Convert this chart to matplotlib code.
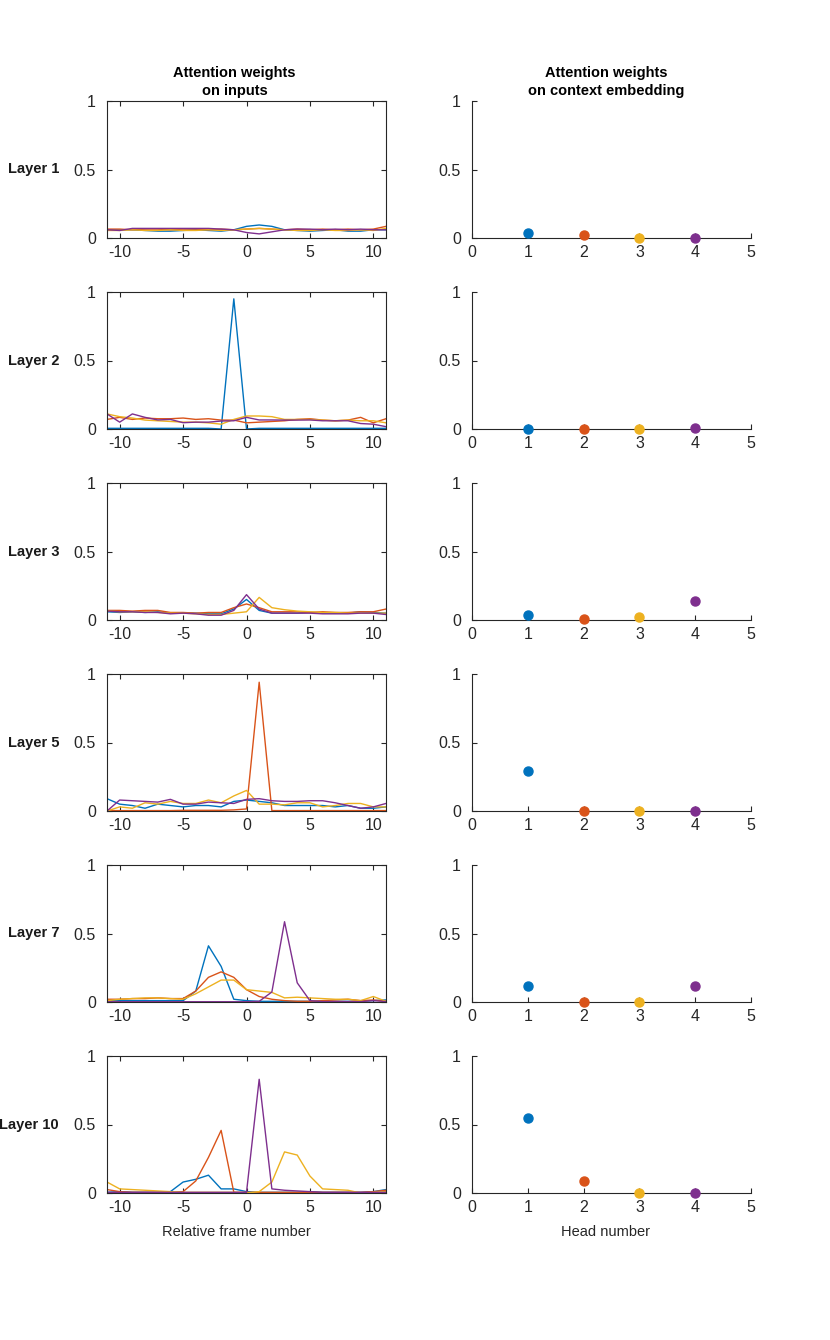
import numpy as np
import matplotlib
matplotlib.use('Agg')
import matplotlib.pyplot as plt

plt.rcParams['font.family'] = ['Liberation Sans', 'DejaVu Sans']
plt.rcParams['axes.unicode_minus'] = False

# MATLAB default colour order
pal = ['#0072BD', '#D95319', '#EDB120', '#7E2F8E']
axcol = '#262626'

layers = ['Layer 1', 'Layer 2', 'Layer 3', 'Layer 5', 'Layer 7', 'Layer 10']
frames = np.arange(-11, 12)
heads = [1, 2, 3, 4]

# attention on inputs, one list per head (blue, orange, yellow, purple)
l1_h1 = [0.06, 0.06, 0.06, 0.055, 0.05, 0.05, 0.055, 0.06, 0.055, 0.05, 0.06, 0.085, 0.095, 0.085, 0.06, 0.055, 0.05, 0.055, 0.06, 0.05, 0.05, 0.06, 0.06]
l1_h2 = [0.065, 0.065, 0.06, 0.065, 0.065, 0.06, 0.065, 0.065, 0.06, 0.065, 0.06, 0.065, 0.07, 0.065, 0.06, 0.065, 0.06, 0.065, 0.06, 0.065, 0.06, 0.065, 0.085]
l1_h3 = [0.055, 0.055, 0.06, 0.055, 0.055, 0.06, 0.055, 0.055, 0.06, 0.055, 0.06, 0.065, 0.07, 0.065, 0.06, 0.055, 0.055, 0.06, 0.055, 0.055, 0.06, 0.055, 0.07]
l1_h4 = [0.06, 0.055, 0.07, 0.07, 0.07, 0.07, 0.07, 0.07, 0.07, 0.065, 0.06, 0.04, 0.03, 0.045, 0.06, 0.065, 0.065, 0.06, 0.065, 0.06, 0.065, 0.06, 0.06]

l2_h1 = [0.005, 0.005, 0.005, 0.005, 0.005, 0.005, 0.005, 0.005, 0.005, 0.0, 0.95, 0.0, 0.005, 0.005, 0.005, 0.005, 0.005, 0.005, 0.005, 0.005, 0.005, 0.005, 0.005]
l2_h2 = [0.07, 0.085, 0.07, 0.08, 0.075, 0.075, 0.08, 0.07, 0.075, 0.065, 0.065, 0.045, 0.05, 0.055, 0.06, 0.07, 0.075, 0.065, 0.06, 0.065, 0.085, 0.045, 0.075]
l2_h3 = [0.11, 0.09, 0.08, 0.065, 0.06, 0.055, 0.05, 0.05, 0.045, 0.035, 0.07, 0.095, 0.095, 0.09, 0.07, 0.07, 0.07, 0.065, 0.06, 0.065, 0.06, 0.06, 0.045]
l2_h4 = [0.11, 0.05, 0.11, 0.085, 0.066, 0.07, 0.046, 0.05, 0.05, 0.058, 0.06, 0.085, 0.066, 0.066, 0.065, 0.065, 0.066, 0.06, 0.06, 0.06, 0.04, 0.035, 0.017]

l3_h1 = [0.06, 0.055, 0.06, 0.055, 0.06, 0.05, 0.05, 0.05, 0.045, 0.045, 0.08, 0.15, 0.07, 0.05, 0.05, 0.05, 0.055, 0.05, 0.05, 0.05, 0.06, 0.055, 0.05]
l3_h2 = [0.07, 0.07, 0.065, 0.07, 0.07, 0.055, 0.055, 0.05, 0.055, 0.055, 0.09, 0.117, 0.09, 0.06, 0.06, 0.06, 0.055, 0.06, 0.055, 0.055, 0.06, 0.06, 0.08]
l3_h3 = [0.065, 0.06, 0.06, 0.06, 0.055, 0.05, 0.05, 0.045, 0.04, 0.04, 0.05, 0.06, 0.165, 0.09, 0.075, 0.065, 0.06, 0.055, 0.055, 0.05, 0.05, 0.05, 0.05]
l3_h4 = [0.065, 0.06, 0.06, 0.055, 0.055, 0.045, 0.05, 0.045, 0.035, 0.035, 0.07, 0.185, 0.08, 0.05, 0.05, 0.05, 0.05, 0.045, 0.045, 0.045, 0.05, 0.05, 0.04]

l5_h1 = [0.09, 0.05, 0.04, 0.02, 0.05, 0.04, 0.03, 0.04, 0.04, 0.03, 0.07, 0.08, 0.07, 0.06, 0.04, 0.04, 0.04, 0.04, 0.03, 0.04, 0.02, 0.02, 0.03]
l5_h2 = [0.003, 0.003, 0.003, 0.003, 0.003, 0.003, 0.005, 0.005, 0.005, 0.005, 0.008, 0.015, 0.94, 0.003, 0.003, 0.003, 0.003, 0.003, 0.003, 0.003, 0.003, 0.003, 0.003]
l5_h3 = [0.0, 0.03, 0.02, 0.06, 0.05, 0.07, 0.055, 0.055, 0.08, 0.06, 0.11, 0.15, 0.05, 0.05, 0.045, 0.06, 0.06, 0.03, 0.04, 0.055, 0.055, 0.03, 0.03]
l5_h4 = [0.0, 0.08, 0.075, 0.07, 0.065, 0.085, 0.05, 0.05, 0.065, 0.06, 0.055, 0.085, 0.09, 0.075, 0.07, 0.07, 0.075, 0.075, 0.06, 0.04, 0.02, 0.03, 0.055]

l7_h1 = [0.01, 0.01, 0.01, 0.01, 0.01, 0.01, 0.01, 0.08, 0.41, 0.26, 0.02, 0.01, 0.005, 0.005, 0.005, 0.005, 0.005, 0.005, 0.005, 0.005, 0.005, 0.01, 0.015]
l7_h2 = [0.02, 0.02, 0.025, 0.025, 0.03, 0.025, 0.025, 0.08, 0.18, 0.22, 0.18, 0.09, 0.04, 0.02, 0.01, 0.005, 0.005, 0.01, 0.015, 0.02, 0.01, 0.015, 0.005]
l7_h3 = [0.01, 0.02, 0.025, 0.03, 0.03, 0.025, 0.02, 0.06, 0.11, 0.16, 0.16, 0.09, 0.08, 0.07, 0.03, 0.035, 0.03, 0.025, 0.02, 0.02, 0.01, 0.04, 0.005]
l7_h4 = [0.002, 0.002, 0.002, 0.002, 0.002, 0.002, 0.002, 0.002, 0.002, 0.002, 0.002, 0.002, 0.005, 0.073, 0.586, 0.14, 0.01, 0.003, 0.003, 0.003, 0.003, 0.01, 0.003]

l10_h1 = [0.005, 0.01, 0.005, 0.005, 0.005, 0.01, 0.08, 0.1, 0.13, 0.03, 0.03, 0.01, 0.005, 0.005, 0.005, 0.005, 0.01, 0.005, 0.005, 0.005, 0.005, 0.01, 0.025]
l10_h2 = [0.025, 0.01, 0.005, 0.005, 0.005, 0.005, 0.01, 0.088, 0.26, 0.457, 0.005, 0.005, 0.005, 0.005, 0.005, 0.005, 0.005, 0.005, 0.005, 0.005, 0.005, 0.01, 0.02]
l10_h3 = [0.08, 0.03, 0.025, 0.02, 0.015, 0.01, 0.005, 0.005, 0.005, 0.005, 0.005, 0.0, 0.01, 0.08, 0.3, 0.277, 0.124, 0.03, 0.025, 0.02, 0.0, 0.005, 0.01]
l10_h4 = [0.005, 0.005, 0.005, 0.005, 0.005, 0.005, 0.005, 0.005, 0.005, 0.005, 0.005, 0.005, 0.83, 0.03, 0.02, 0.015, 0.01, 0.005, 0.005, 0.005, 0.005, 0.005, 0.005]

inputs = [
    [l1_h1, l1_h2, l1_h3, l1_h4],
    [l2_h1, l2_h2, l2_h3, l2_h4],
    [l3_h1, l3_h2, l3_h3, l3_h4],
    [l5_h1, l5_h2, l5_h3, l5_h4],
    [l7_h1, l7_h2, l7_h3, l7_h4],
    [l10_h1, l10_h2, l10_h3, l10_h4],
]

# attention on context embedding, per layer, heads 1-4
ctx_l1 = [0.04, 0.02, 0.003, 0.003]
ctx_l2 = [0.003, 0.003, 0.003, 0.01]
ctx_l3 = [0.04, 0.01, 0.02, 0.14]
ctx_l5 = [0.29, 0.003, 0.003, 0.003]
ctx_l7 = [0.12, 0.003, 0.003, 0.12]
ctx_l10 = [0.55, 0.085, 0.003, 0.003]
context = [ctx_l1, ctx_l2, ctx_l3, ctx_l5, ctx_l7, ctx_l10]

##==============================================
W, H = 830, 1340
fig = plt.figure(figsize=(W / 100, H / 100), dpi=100)

def style(ax):
    for s in ax.spines.values():
        s.set_color(axcol)
        s.set_linewidth(0.8)
    ax.tick_params(direction='in', colors=axcol, labelsize=11.5, length=3.5, width=0.8)
    ax.tick_params(axis='x', pad=5)
    ax.tick_params(axis='y', pad=8)

for i in range(6):
    top = 101 + 191 * i
    bot = 238 + 191 * i
    y0 = 1 - bot / H
    h = (bot - top) / H

    # left: attention on inputs
    ax = fig.add_axes([107 / W, y0, 279 / W, h])
    for k in range(4):
        ax.plot(frames, inputs[i][k], color=pal[k], lw=1.0)
    ax.set_xlim(-11, 11)
    ax.set_ylim(0, 1)
    ax.set_xticks([-10, -5, 0, 5, 10])
    ax.set_yticks([0, 0.5, 1])
    ax.set_yticklabels(['0', '0.5', '1'])
    ax.tick_params(top=True, right=True)
    style(ax)
    fig.text(59 / W, 1 - (top + bot) / 2 / H, layers[i], ha='right', va='center',
             fontsize=10.5, fontweight='bold', color='#1a1a1a')
    if i == 0:
        t = ax.set_title('Attention weights\non inputs', fontsize=10.5, fontweight='bold',
                         pad=4, linespacing=1.4)
        t.set_x(0.457)
    if i == 5:
        ax.set_xlabel('Relative frame number', fontsize=10.5, color=axcol)
        ax.xaxis.set_label_coords(0.462, -0.23)

    # right: attention on context embedding
    ax2 = fig.add_axes([472 / W, y0, 279 / W, h])
    for k in range(4):
        ax2.plot(heads[k], context[i][k], 'o', color=pal[k], ms=6.5, clip_on=False, zorder=3)
    ax2.set_xlim(0, 5)
    ax2.set_ylim(0, 1)
    ax2.set_xticks([0, 1, 2, 3, 4, 5])
    ax2.set_yticks([0, 0.5, 1])
    ax2.set_yticklabels(['0', '0.5', '1'])
    ax2.spines['top'].set_visible(False)
    ax2.spines['right'].set_visible(False)
    style(ax2)
    if i == 0:
        t2 = ax2.set_title('Attention weights\non context embedding', fontsize=10.5, fontweight='bold',
                           pad=4, linespacing=1.4)
        t2.set_x(0.48)
    if i == 5:
        ax2.set_xlabel('Head number', fontsize=10.5, color=axcol)
        ax2.xaxis.set_label_coords(0.48, -0.23)

plt.savefig('out.png', dpi=100)
